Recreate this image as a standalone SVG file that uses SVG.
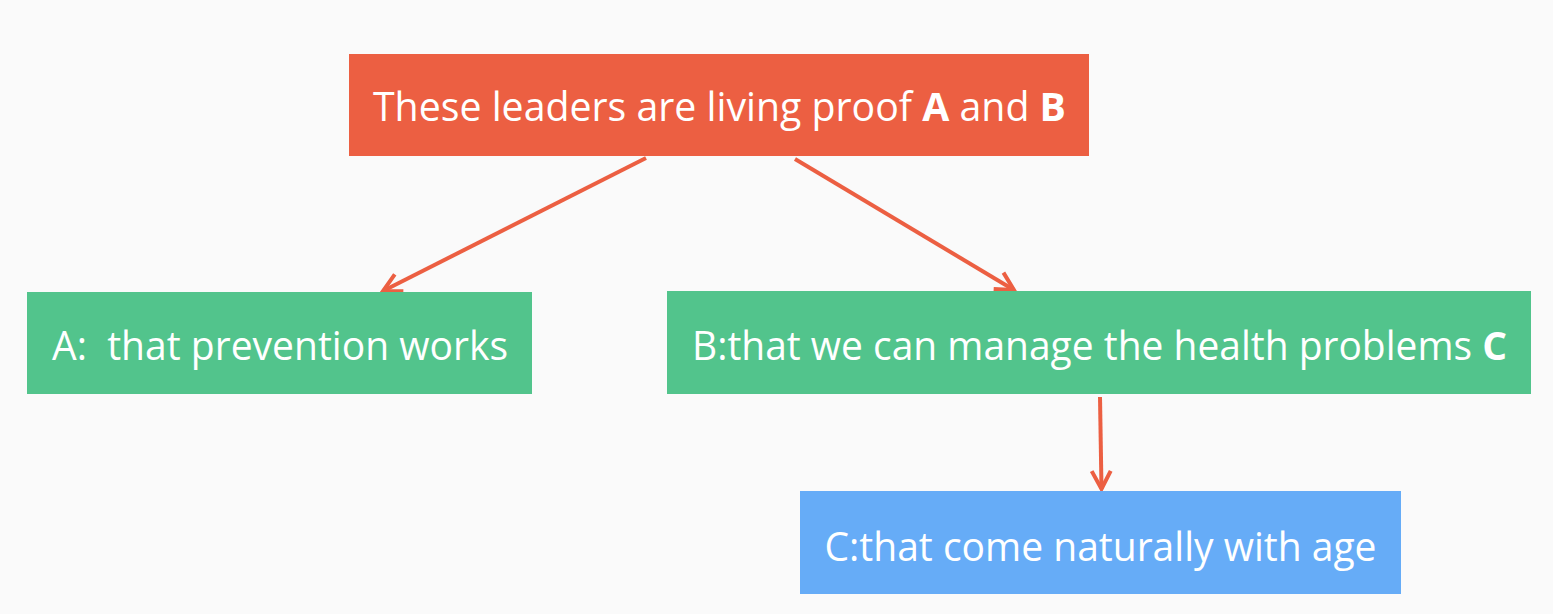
<svg xmlns="http://www.w3.org/2000/svg" width="1553" height="614" viewBox="0 0 1553 614">
<style>
.lbl{font-family:"Open Sans","Noto Sans","Liberation Sans",sans-serif;font-size:40px;fill:#ffffff;text-anchor:middle}
.b{font-weight:bold}
.edge{stroke:#EC5F42;stroke-width:4;fill:none}
</style>
<defs>
<marker id="arr" markerUnits="userSpaceOnUse" markerWidth="40" markerHeight="40" refX="0" refY="0" viewBox="-20 -20 40 40" orient="auto">
<path d="M-18,-9.5 L0,0 L-18,9.5" fill="none" stroke="#EC5F42" stroke-width="4"/>
</marker>
</defs>
<rect width="1553" height="614" fill="#FAFAFA"/>
<g id="connectors">
<line class="edge" x1="646" y1="158" x2="383" y2="291" marker-end="url(#arr)"/>
<line class="edge" x1="795" y1="159" x2="1014" y2="290" marker-end="url(#arr)"/>
<line class="edge" x1="1100" y1="397" x2="1101.5" y2="489" marker-end="url(#arr)"/>
</g>
<g id="root">
<rect x="349" y="54" width="740" height="102" fill="#EC5F42"/>
<text class="lbl" x="719.5" y="121" textLength="693" lengthAdjust="spacingAndGlyphs">These leaders are living proof <tspan class="b">A</tspan> and <tspan class="b">B</tspan></text>
</g>
<g id="nodeA">
<rect x="27" y="292" width="505" height="102" fill="#52C48C"/>
<text class="lbl" x="280" y="360" textLength="456" lengthAdjust="spacingAndGlyphs" xml:space="preserve">A:  that prevention works</text>
</g>
<g id="nodeB">
<rect x="667" y="291" width="864" height="103" fill="#52C48C"/>
<text class="lbl" x="1099.5" y="360" textLength="815" lengthAdjust="spacingAndGlyphs">B:that we can manage the health problems <tspan class="b">C</tspan></text>
</g>
<g id="nodeC">
<rect x="800" y="491" width="601" height="103" fill="#66ACF7"/>
<text class="lbl" x="1100.5" y="561" textLength="552" lengthAdjust="spacingAndGlyphs">C:that come naturally with age</text>
</g>
</svg>
